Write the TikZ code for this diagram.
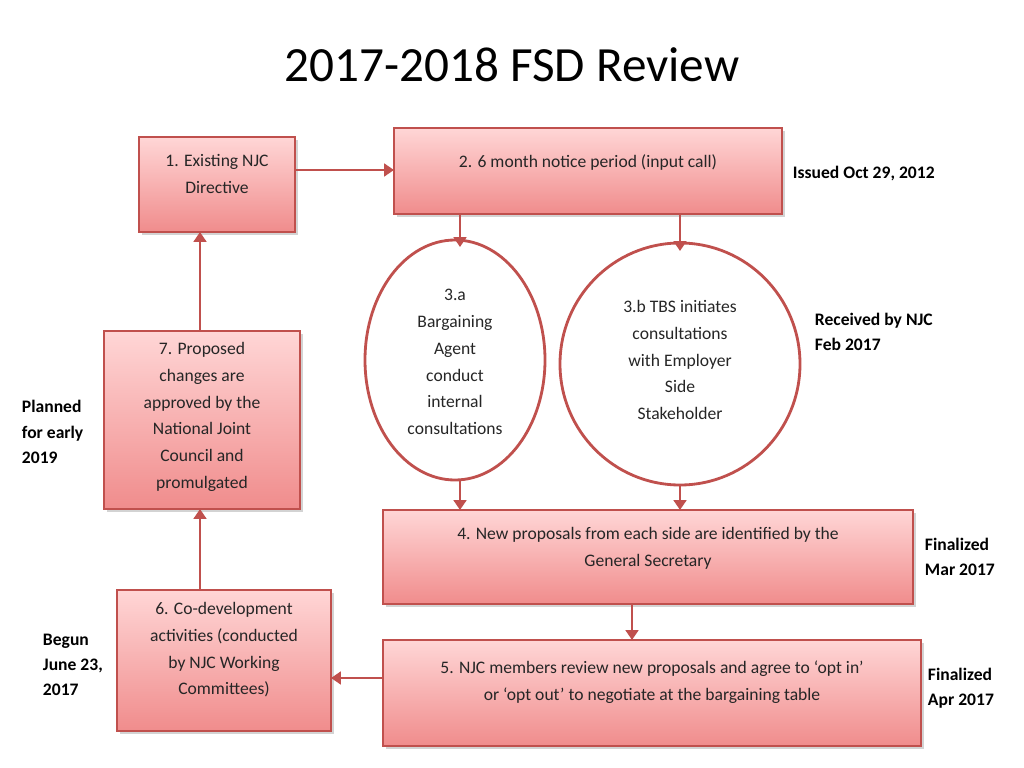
\documentclass[tikz,border=0pt]{standalone}
\usepackage{fontspec}
\setmainfont{Carlito}
\usetikzlibrary{arrows.meta,shadows}
\definecolor{bord}{RGB}{192,80,77}
\definecolor{ptop}{RGB}{255,214,214}
\definecolor{pbot}{RGB}{240,140,140}
\tikzset{x=0.025cm,y=-0.025cm,
 pbox/.style={draw=bord,line width=0.9pt,top color=ptop,bottom color=pbot,drop shadow={opacity=0.35,shadow xshift=2pt,shadow yshift=-2pt},inner sep=0pt},
 ell/.style={draw=bord,line width=2pt,fill=white,ellipse},
 btext/.style={font=\fontsize{12.5}{19}\selectfont,align=center,text=black!85},
 side/.style={font=\bfseries\fontsize{12.5}{18}\selectfont,align=left,anchor=west},
 arr/.style={draw=bord,line width=2pt,-{Triangle[length=7pt,width=9pt]}}}
\usetikzlibrary{shapes.geometric}
\begin{document}
\begin{tikzpicture}
\useasboundingbox (0,0) rectangle (1024,768);
\node[font=\fontsize{35}{40}\selectfont] (title) at (512,65) {2017-2018 FSD Review};
% boxes
\path[pbox] (139,137) rectangle (295,232); \node (b1) at (217,184.5) [minimum width=156*0.025cm,minimum height=95*0.025cm]{};
\node[btext] at (217,174) {1. Existing NJC\\Directive};
\path[pbox] (394,128) rectangle (782,214); \node (b2) at (588,171) [minimum width=388*0.025cm,minimum height=86*0.025cm]{};
\node[btext] at (588,162) {2. 6 month notice period (input call)};
\path[pbox] (383,510) rectangle (913,604); \node (b4) at (648,557){};
\node[btext] at (648,548) {4. New proposals from each side are identified by the\\General Secretary};
\path[pbox] (383,640) rectangle (921,746); \node (b5) at (652,693){};
\node[btext] at (652,682) {5. NJC members review new proposals and agree to ‘opt in’\\or ‘opt out’ to negotiate at the bargaining table};
\path[pbox] (117,590) rectangle (331,731); \node (b6) at (224,660){};
\node[btext] at (224,650) {6. Co-development\\activities (conducted\\by NJC Working\\Committees)};
\path[pbox] (104,331) rectangle (300,509); \node (b7) at (202,420){};
\node[btext] at (202,417) {7. Proposed\\changes are\\approved by the\\National Joint\\Council and\\promulgated};
% ellipses
\path[ell] (455,360) ellipse [x radius=90,y radius=120];
\node[btext] (e3a) at (455,362) {3.a\\Bargaining\\Agent\\conduct\\internal\\consultations};
\path[ell] (680,364) ellipse [x radius=120,y radius=121];
\node[btext] (e3b) at (680,360) {3.b TBS initiates\\consultations\\with Employer\\Side\\Stakeholder};
% side notes
\node[side] (n1) at (788,174) {Issued Oct 29, 2012};
\node[side] (n2) at (810,332) {Received by NJC\\Feb 2017};
\node[side] (n3) at (920,557) {Finalized\\Mar 2017};
\node[side] (n4) at (923,688) {Finalized\\Apr 2017};
\node[side] (n5) at (38,665) {Begun\\June 23,\\2017};
\node[side] (n6) at (17,432) {Planned\\for early\\2019};
% connectors
\coordinate (a1) at (295,170); \coordinate (a1e) at (394,170);
\coordinate (a2) at (460,214); \coordinate (a2e) at (460,247);
\coordinate (a3) at (680,214); \coordinate (a3e) at (680,251);
\coordinate (a4) at (460,481); \coordinate (a4e) at (460,510);
\coordinate (a5) at (680,485); \coordinate (a5e) at (680,510);
\coordinate (a6) at (632,604); \coordinate (a6e) at (632,640);
\coordinate (a7) at (383,678); \coordinate (a7e) at (331,678);
\coordinate (a8) at (200,590); \coordinate (a8e) at (200,509);
\coordinate (a9) at (200,331); \coordinate (a9e) at (200,232);
\foreach \s/\e in {a1/a1e,a2/a2e,a3/a3e,a4/a4e,a5/a5e,a6/a6e,a7/a7e,a8/a8e,a9/a9e}
  \draw[arr] (\s) -- (\e);
\end{tikzpicture}
\end{document}
